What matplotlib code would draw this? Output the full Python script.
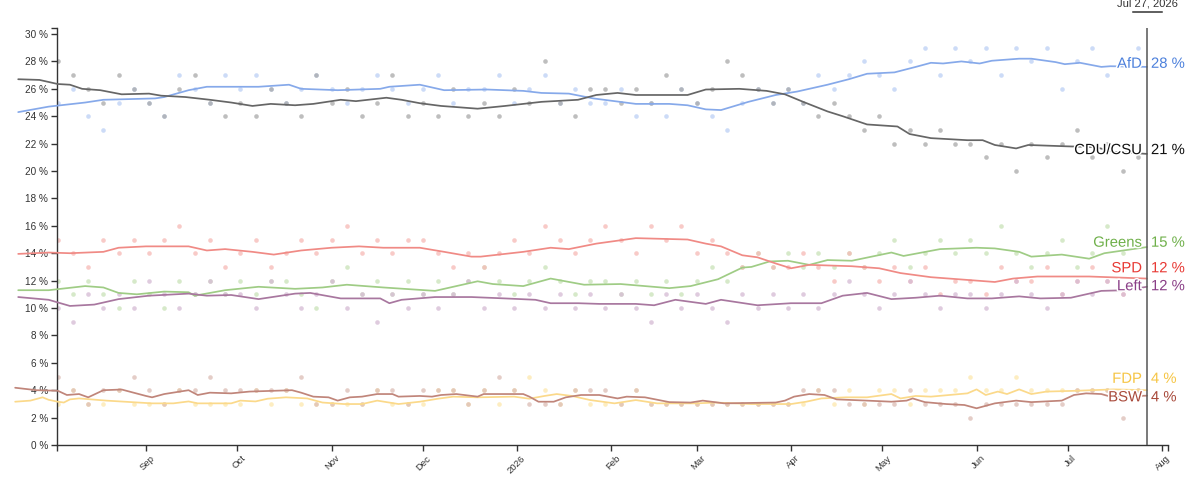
import matplotlib
matplotlib.use('Agg')
import matplotlib.pyplot as plt
import matplotlib.patheffects as pe
from matplotlib.transforms import ScaledTranslation
from matplotlib.lines import Line2D
import pandas as pd

plt.rcParams['font.family'] = ['Liberation Sans', 'DejaVu Sans']

# ---------------- data ----------------
parties = ['AfD', 'CDU/CSU', 'Greens', 'SPD', 'Left', 'FDP', 'BSW']
latest_values = [28, 21, 15, 12, 12, 4, 4]
latest_date = '2026-07-27'
latest_label = 'Jul 27, 2026'

month_ticks = ['2025-09-01', '2025-10-01', '2025-11-01', '2025-12-01', '2026-01-01', '2026-02-01',
               '2026-03-01', '2026-04-01', '2026-05-01', '2026-06-01', '2026-07-01', '2026-08-01']
month_labels = ['Sep', 'Oct', 'Nov', 'Dec', '2026', 'Feb', 'Mar', 'Apr', 'May', 'Jun', 'Jul', 'Aug']
y_ticks = [0, 2, 4, 6, 8, 10, 12, 14, 16, 18, 20, 22, 24, 26, 28, 30]

afd_dates = ['2025-07-21', '2025-07-31', '2025-08-12', '2025-08-18', '2025-09-04', '2025-09-07', '2025-09-15',
             '2025-09-21', '2025-10-08', '2025-10-18', '2025-10-22', '2025-11-03', '2025-11-17', '2025-11-20',
             '2025-11-30', '2025-12-08', '2025-12-22', '2026-01-03', '2026-01-09', '2026-01-18', '2026-01-26',
             '2026-02-09', '2026-02-20', '2026-02-26', '2026-03-04', '2026-03-09', '2026-03-18', '2026-03-27',
             '2026-04-03', '2026-04-13', '2026-04-20', '2026-04-26', '2026-05-05', '2026-05-12', '2026-05-17',
             '2026-05-21', '2026-05-27', '2026-06-02', '2026-06-06', '2026-06-15', '2026-06-19', '2026-06-27',
             '2026-06-30', '2026-07-05', '2026-07-12', '2026-07-15', '2026-07-27']
afd_trend = [24.3, 24.7, 25.0, 25.2, 25.3, 25.4, 25.9,
             26.15, 26.15, 26.3, 26.0, 25.9, 26.0, 26.15,
             26.3, 25.9, 25.95, 25.85, 25.7, 25.65, 25.3,
             24.9, 24.9, 24.8, 24.5, 24.45, 25.05, 25.55,
             25.8, 26.3, 26.7, 27.1, 27.2, 27.6, 27.9,
             27.85, 28.0, 27.85, 28.05, 28.2, 28.2, 27.95,
             27.8, 27.9, 27.6, 27.65, 27.6]

cdu_dates = ['2025-07-21', '2025-07-28', '2025-08-03', '2025-08-07', '2025-08-11', '2025-08-17', '2025-08-24',
             '2025-09-02', '2025-09-06', '2025-09-14', '2025-09-22', '2025-09-29', '2025-10-06', '2025-10-12',
             '2025-10-20', '2025-10-26', '2025-11-04', '2025-11-09', '2025-11-19', '2025-11-24', '2025-11-30',
             '2025-12-07', '2025-12-19', '2025-12-28', '2026-01-09', '2026-01-21', '2026-01-27', '2026-02-03',
             '2026-02-09', '2026-02-26', '2026-03-04', '2026-03-15', '2026-03-24', '2026-03-30', '2026-04-05',
             '2026-04-13', '2026-04-18', '2026-04-26', '2026-05-06', '2026-05-10', '2026-05-17', '2026-05-29',
             '2026-06-03', '2026-06-07', '2026-06-14', '2026-06-18', '2026-07-01', '2026-07-10', '2026-07-16',
             '2026-07-27']
cdu_trend = [26.7, 26.65, 26.35, 26.3, 26.0, 25.9, 25.6,
             25.65, 25.5, 25.4, 25.2, 25.0, 24.75, 24.9,
             24.8, 24.9, 25.2, 25.1, 25.35, 25.2, 24.95,
             24.75, 24.55, 24.75, 25.05, 25.2, 25.55, 25.7,
             25.55, 25.55, 25.95, 26.0, 25.85, 25.6, 25.05,
             24.35, 24.0, 23.4, 23.25, 22.7, 22.4, 22.25,
             22.25, 21.9, 21.65, 21.9, 21.8, 21.75, 21.4,
             21.25]

spd_dates = ['2025-07-21', '2025-07-31', '2025-08-07', '2025-08-18', '2025-08-23', '2025-09-01', '2025-09-15',
             '2025-09-21', '2025-09-27', '2025-10-06', '2025-10-13', '2025-10-22', '2025-11-01', '2025-11-10',
             '2025-11-18', '2025-11-30', '2025-12-08', '2025-12-17', '2025-12-20', '2026-01-03', '2026-01-12',
             '2026-01-18', '2026-01-27', '2026-02-09', '2026-02-26', '2026-03-04', '2026-03-09', '2026-03-16',
             '2026-03-21', '2026-03-27', '2026-04-01', '2026-04-07', '2026-04-21', '2026-04-30', '2026-05-07',
             '2026-05-17', '2026-05-29', '2026-06-07', '2026-06-13', '2026-06-21', '2026-07-08', '2026-07-27']
spd_trend = [13.95, 14.05, 14.0, 14.1, 14.4, 14.5, 14.5,
             14.2, 14.3, 14.1, 13.9, 14.2, 14.4, 14.5,
             14.4, 14.4, 14.1, 13.75, 13.75, 14.1, 14.4,
             14.3, 14.7, 15.1, 15.0, 14.7, 14.5, 13.85,
             13.7, 13.25, 12.9, 13.15, 13.05, 12.9, 12.55,
             12.25, 12.05, 11.9, 12.15, 12.3, 12.3, 12.15]

grn_dates = ['2025-07-21', '2025-07-31', '2025-08-12', '2025-08-18', '2025-08-23', '2025-08-29', '2025-09-07',
             '2025-09-15', '2025-09-17', '2025-09-27', '2025-10-08', '2025-10-20', '2025-10-29', '2025-11-06',
             '2025-11-18', '2025-12-05', '2025-12-11', '2025-12-19', '2025-12-24', '2026-01-03', '2026-01-12',
             '2026-01-23', '2026-02-04', '2026-02-20', '2026-02-27', '2026-03-08', '2026-03-16', '2026-03-19',
             '2026-03-25', '2026-03-31', '2026-04-07', '2026-04-13', '2026-04-21', '2026-05-04', '2026-05-08',
             '2026-05-20', '2026-06-01', '2026-06-07', '2026-06-15', '2026-06-19', '2026-06-29', '2026-07-08',
             '2026-07-13', '2026-07-27']
grn_trend = [11.3, 11.3, 11.6, 11.5, 11.1, 11.0, 11.2,
             11.15, 10.9, 11.3, 11.55, 11.4, 11.5, 11.7,
             11.5, 11.25, 11.55, 11.95, 11.75, 11.6, 12.15,
             11.7, 11.75, 11.45, 11.6, 12.1, 12.95, 13.0,
             13.4, 13.45, 13.15, 13.5, 13.45, 14.05, 13.8,
             14.3, 14.4, 14.35, 14.1, 13.75, 13.9, 13.6,
             14.0, 14.45]

lnk_dates = ['2025-07-21', '2025-07-31', '2025-08-07', '2025-08-15', '2025-08-23', '2025-09-02', '2025-09-15',
             '2025-09-21', '2025-09-29', '2025-10-08', '2025-10-20', '2025-10-25', '2025-11-04', '2025-11-17',
             '2025-11-20', '2025-11-24', '2025-12-05', '2025-12-17', '2025-12-28', '2026-01-07', '2026-01-12',
             '2026-01-21', '2026-01-28', '2026-02-09', '2026-02-15', '2026-02-22', '2026-03-04', '2026-03-09',
             '2026-03-21', '2026-04-01', '2026-04-11', '2026-04-18', '2026-04-26', '2026-05-04', '2026-05-12',
             '2026-05-20', '2026-05-29', '2026-06-06', '2026-06-15', '2026-06-22', '2026-07-02', '2026-07-12',
             '2026-07-20', '2026-07-27']
lnk_trend = [10.8, 10.6, 10.15, 10.25, 10.65, 10.9, 11.05,
             10.9, 10.95, 10.65, 11.05, 11.1, 10.7, 10.7,
             10.35, 10.6, 10.8, 10.8, 10.7, 10.6, 10.35,
             10.35, 10.3, 10.3, 10.2, 10.6, 10.3, 10.6,
             10.2, 10.35, 10.35, 10.9, 11.1, 10.65, 10.75,
             10.9, 10.7, 10.7, 10.85, 10.7, 10.75, 11.25,
             11.3, 11.55]

fdp_dates = ['2025-07-20', '2025-07-25', '2025-07-29', '2025-07-31', '2025-08-03', '2025-08-05', '2025-08-07',
             '2025-08-10', '2025-08-19', '2025-08-25', '2025-09-03', '2025-09-10', '2025-09-15', '2025-09-18',
             '2025-09-29', '2025-10-02', '2025-10-07', '2025-10-11', '2025-10-17', '2025-10-24', '2025-10-29',
             '2025-11-05', '2025-11-11', '2025-11-16', '2025-11-23', '2025-11-30', '2025-12-06', '2025-12-11',
             '2025-12-19', '2025-12-31', '2026-01-05', '2026-01-10', '2026-01-14', '2026-01-19', '2026-01-25',
             '2026-02-02', '2026-02-09', '2026-02-16', '2026-03-01', '2026-03-07', '2026-03-19', '2026-04-01',
             '2026-04-06', '2026-04-11', '2026-04-19', '2026-04-26', '2026-05-04', '2026-05-07', '2026-05-12',
             '2026-05-17', '2026-05-23', '2026-05-29', '2026-06-01', '2026-06-04', '2026-06-08', '2026-06-11',
             '2026-06-15', '2026-06-19', '2026-06-24', '2026-07-04', '2026-07-16', '2026-07-27']
fdp_trend = [3.16, 3.24, 3.48, 3.3, 3.16, 3.1, 3.33,
             3.4, 3.24, 3.16, 3.04, 3.04, 3.18, 3.04,
             3.04, 3.24, 3.18, 3.38, 3.48, 3.4, 3.1,
             2.99, 2.99, 3.24, 2.99, 3.16, 3.38, 3.53,
             3.48, 3.53, 3.38, 3.58, 3.72, 3.58, 3.28,
             3.04, 3.28, 3.04, 3.04, 3.1, 2.99, 2.99,
             3.16, 3.4, 3.48, 3.48, 3.72, 3.4, 3.58,
             3.53, 3.65, 3.77, 4.06, 3.65, 3.9, 3.72,
             4.06, 3.72, 3.9, 3.96, 4.06, 4.0]

bsw_dates = ['2025-07-20', '2025-07-27', '2025-08-03', '2025-08-06', '2025-08-10', '2025-08-13', '2025-08-18',
             '2025-08-24', '2025-09-01', '2025-09-03', '2025-09-07', '2025-09-15', '2025-09-18', '2025-09-22',
             '2025-09-29', '2025-10-05', '2025-10-19', '2025-10-22', '2025-10-26', '2025-10-31', '2025-11-03',
             '2025-11-07', '2025-11-11', '2025-11-16', '2025-11-21', '2025-11-23', '2025-11-30', '2025-12-04',
             '2025-12-07', '2025-12-12', '2025-12-19', '2025-12-21', '2026-01-03', '2026-01-05', '2026-01-08',
             '2026-01-13', '2026-01-17', '2026-01-22', '2026-01-28', '2026-02-03', '2026-02-06', '2026-02-12',
             '2026-02-20', '2026-02-27', '2026-03-03', '2026-03-10', '2026-03-27', '2026-03-30', '2026-04-02',
             '2026-04-07', '2026-04-12', '2026-04-16', '2026-04-26', '2026-05-04', '2026-05-09', '2026-05-11',
             '2026-05-15', '2026-05-22', '2026-05-28', '2026-06-01', '2026-06-07', '2026-06-14', '2026-06-19',
             '2026-06-29', '2026-07-03', '2026-07-07', '2026-07-12', '2026-07-15', '2026-07-27']
bsw_trend = [4.18, 4.0, 3.96, 3.65, 3.72, 3.48, 4.0,
             4.05, 3.58, 3.48, 3.72, 4.0, 3.65, 3.82,
             3.77, 3.9, 4.0, 3.82, 3.53, 3.48, 3.24,
             3.48, 3.53, 3.72, 3.72, 3.53, 3.58, 3.53,
             3.65, 3.72, 3.53, 3.72, 3.72, 3.53, 3.16,
             3.16, 3.48, 3.65, 3.65, 3.4, 3.53, 3.48,
             3.13, 3.1, 3.24, 3.04, 3.1, 3.24, 3.53,
             3.72, 3.65, 3.33, 3.24, 3.16, 3.24, 3.4,
             3.13, 2.99, 2.92, 2.68, 3.04, 3.24, 3.13,
             3.24, 3.65, 3.77, 3.72, 3.53, 3.6]

poll_dates = ['2025-08-03', '2025-08-08', '2025-08-13', '2025-08-18', '2025-08-23', '2025-08-28',
              '2025-09-02', '2025-09-07', '2025-09-12', '2025-09-17', '2025-09-22', '2025-09-27',
              '2025-10-02', '2025-10-07', '2025-10-12', '2025-10-17', '2025-10-22', '2025-10-27',
              '2025-11-01', '2025-11-06', '2025-11-11', '2025-11-16', '2025-11-21', '2025-11-26',
              '2025-12-01', '2025-12-06', '2025-12-11', '2025-12-16', '2025-12-21', '2025-12-26',
              '2025-12-31', '2026-01-05', '2026-01-10', '2026-01-15', '2026-01-20', '2026-01-25',
              '2026-01-30', '2026-02-04', '2026-02-09', '2026-02-14', '2026-02-19', '2026-02-24',
              '2026-03-01', '2026-03-06', '2026-03-11', '2026-03-16', '2026-03-21', '2026-03-26',
              '2026-03-31', '2026-04-05', '2026-04-10', '2026-04-15', '2026-04-20', '2026-04-25',
              '2026-04-30', '2026-05-05', '2026-05-10', '2026-05-15', '2026-05-20', '2026-05-25',
              '2026-05-30', '2026-06-04', '2026-06-09', '2026-06-14', '2026-06-19', '2026-06-24',
              '2026-06-29', '2026-07-04', '2026-07-09', '2026-07-14', '2026-07-19', '2026-07-24']
afd_polls = [25, 26, 24, 23, 25, 26, 25, 24, 27, 26, 25, 27,
             26, 27, 26, 25, 26, 27, 26, 25, 26, 27, 26, 25,
             26, 27, 25, 26, 26, 27, 25, 26, 27, 25, 26, 25,
             25, 26, 24, 25, 24, 26, 25, 24, 23, 25, 26, 25,
             26, 25, 27, 26, 27, 28, 27, 26, 28, 29, 27, 29,
             28, 29, 27, 29, 28, 29, 26, 28, 29, 27, 28, 29]
cdu_polls = [28, 27, 26, 25, 27, 26, 25, 24, 26, 27, 25, 24,
             25, 24, 26, 25, 24, 27, 25, 26, 24, 25, 27, 24,
             25, 24, 26, 24, 25, 24, 26, 25, 28, 25, 24, 26,
             26, 25, 26, 25, 27, 26, 25, 26, 28, 27, 26, 25,
             26, 25, 24, 25, 24, 23, 24, 22, 23, 22, 23, 22,
             22, 21, 22, 20, 22, 21, 22, 23, 21, 22, 20, 21]
spd_polls = [15, 14, 13, 15, 14, 15, 14, 15, 16, 14, 15, 13,
             14, 15, 13, 14, 15, 14, 15, 16, 14, 15, 14, 15,
             15, 14, 13, 14, 13, 14, 15, 14, 16, 15, 14, 15,
             16, 15, 14, 16, 15, 16, 14, 15, 14, 13, 14, 13,
             13, 14, 13, 12, 14, 13, 12, 13, 12, 13, 11, 12,
             12, 11, 13, 12, 12, 13, 11, 12, 13, 12, 11, 12]
grn_polls = [12, 11, 12, 11, 10, 12, 11, 10, 12, 11, 12, 11,
             12, 11, 12, 12, 11, 10, 12, 13, 11, 12, 11, 12,
             11, 12, 11, 12, 13, 12, 11, 12, 13, 12, 11, 12,
             12, 11, 12, 11, 12, 11, 12, 13, 12, 13, 14, 13,
             14, 13, 14, 13, 14, 13, 14, 15, 13, 14, 15, 14,
             15, 14, 16, 14, 13, 14, 15, 13, 14, 16, 14, 15]
lnk_polls = [10, 9, 11, 10, 11, 10, 12, 11, 10, 11, 12, 11,
             11, 10, 12, 11, 10, 11, 12, 10, 11, 9, 11, 10,
             11, 10, 11, 12, 10, 11, 10, 11, 10, 11, 10, 11,
             10, 11, 10, 9, 11, 10, 11, 10, 9, 11, 10, 11,
             10, 11, 10, 11, 12, 11, 10, 11, 12, 11, 10, 11,
             11, 10, 11, 12, 11, 10, 11, 12, 11, 12, 11, 12]
fdp_polls = [3, 4, 3, 3, 4, 3, 3, 3, 4, 3, 3, 3,
             3, 4, 3, 4, 3, 3, 3, 3, 3, 4, 3, 3,
             3, 4, 4, 3, 4, 3, 4, 5, 4, 3, 4, 3,
             3, 3, 4, 3, 3, 3, 3, 3, 3, 3, 3, 3,
             3, 3, 4, 3, 4, 3, 4, 4, 3, 4, 4, 4,
             5, 4, 4, 5, 4, 4, 4, 4, 4, 4, 5, 4]
bsw_polls = [5, 4, 3, 4, 4, 5, 4, 3, 4, 4, 5, 4,
             4, 4, 4, 4, 5, 3, 3, 4, 3, 4, 4, 3,
             4, 4, 4, 3, 4, 5, 4, 3, 3, 3, 4, 4,
             4, 3, 4, 3, 3, 3, 3, 3, 3, 3, 3, 3,
             3, 4, 4, 4, 3, 3, 3, 3, 4, 3, 3, 3,
             2, 3, 3, 3, 3, 3, 3, 4, 4, 4, 2, 4]

# ---------------- styling ----------------
line_colors = ['#86a9ea', '#666666', '#9fcc85', '#f08a85', '#a8779f', '#fbd98a', '#c0857a']
dot_colors = ['#bcd0f5', '#a9a9a9', '#c9e2b8', '#f6b9b5', '#d5bad4', '#fde8ad', '#dcbdb5']
label_colors = ['#4c80dc', '#111111', '#6fb04a', '#e83a35', '#8a3f87', '#f6c544', '#a8493a']
label_y = [27.9, 21.6, 14.84, 12.97, 11.66, 4.9, 3.55]

series_dates = [afd_dates, cdu_dates, grn_dates, spd_dates, lnk_dates, fdp_dates, bsw_dates]
series_trend = [afd_trend, cdu_trend, grn_trend, spd_trend, lnk_trend, fdp_trend, bsw_trend]
series_polls = [afd_polls, cdu_polls, grn_polls, spd_polls, lnk_polls, fdp_polls, bsw_polls]

W, H = 1200, 478
fig = plt.figure(figsize=(W / 100, H / 100), dpi=100)
ax = fig.add_axes([57 / W, 33 / H, 1111 / W, 417 / H])

x_left = pd.Timestamp('2025-08-02 18:00')
x_right = pd.Timestamp('2026-08-02 22:00')
y_top = 30.44

pdates = pd.to_datetime(poll_dates)
for polls, dc in zip(series_polls, dot_colors):
    ax.scatter(pdates, polls, s=11, color=dc, alpha=0.75, linewidths=0, zorder=1)

draw_order = [6, 5, 4, 3, 2, 0, 1]
for i in draw_order:
    ax.plot(pd.to_datetime(series_dates[i]), series_trend[i], color=line_colors[i], lw=1.25,
            solid_capstyle='round', solid_joinstyle='round', zorder=3 + i * 0.1, clip_on=False)

ax.set_xlim(x_left, x_right)
ax.set_ylim(0, y_top)

# axes styling
for s in ['top', 'right']:
    ax.spines[s].set_visible(False)
for s in ['left', 'bottom']:
    ax.spines[s].set_color('#333333')
    ax.spines[s].set_linewidth(1.0)

ax.set_yticks(y_ticks)
ax.set_yticklabels([f'{v} %' for v in y_ticks])
ax.set_yticks([y_top], minor=True)
ax.tick_params(axis='y', which='both', length=4.2, width=1.0, color='#333333', pad=2.2,
               labelsize=7.2, labelcolor='#333333')

ax.set_xticks(pd.to_datetime(month_ticks))
ax.set_xticklabels(month_labels)
ax.set_xticks([x_left, x_right], minor=True)
ax.tick_params(axis='x', which='both', length=4.5, width=1.0, color='#333333', pad=4,
               labelsize=6.8, labelcolor='#333333')
offset = ScaledTranslation(7 / 100, 0, fig.dpi_scale_trans)
for lab in ax.get_xticklabels():
    lab.set_rotation(45)
    lab.set_ha('right')
    lab.set_va('center')
    lab.set_rotation_mode('anchor')
    lab.set_transform(lab.get_transform() + offset)

# latest-date marker line
ld = pd.Timestamp(latest_date)
fig.canvas.draw()
xpix = ax.transData.transform((ax.xaxis.convert_units(ld), 0))[0]
top_px = H - 12
ax.add_line(Line2D([xpix, xpix], [H - 445, top_px], transform=None, color='#555555', lw=1.1, zorder=5))
fig.add_artist(Line2D([xpix - 14, xpix + 15], [top_px, top_px], transform=None, color='#333333', lw=1.1))
fig.text(xpix / W, 1 - 6.7 / H, latest_label, ha='center', va='baseline', fontsize=8, color='#333333')

# end labels
halo = [pe.withStroke(linewidth=2.2, foreground='white')]
for name, val, ly, lc in zip(parties, latest_values, label_y, label_colors):
    ax.annotate(name, xy=(ld, ly), xytext=(-5, -5.0), textcoords='offset pixels',
                ha='right', va='baseline', fontsize=10.7, color=lc, path_effects=halo,
                zorder=10, annotation_clip=False)
    ax.annotate(f'{val} %', xy=(ld, ly), xytext=(4, -5.0), textcoords='offset pixels',
                ha='left', va='baseline', fontsize=10.7, color=lc, path_effects=halo,
                zorder=10, annotation_clip=False)

fig.savefig('out.png', dpi=100)
